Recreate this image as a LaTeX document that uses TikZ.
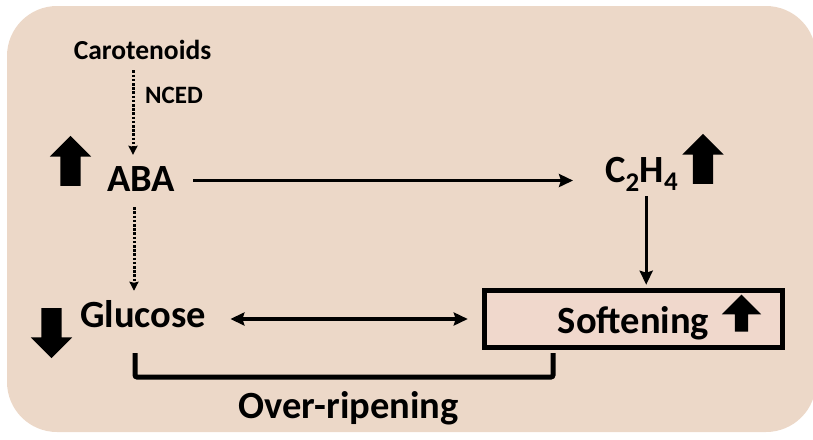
\documentclass[tikz,border=0pt]{standalone}
\usepackage{fontspec}
\setmainfont{Carlito}
\usetikzlibrary{positioning, arrows.meta, shapes.arrows}
\definecolor{bgtan}{RGB}{236,216,200}
\definecolor{boxpink}{RGB}{240,216,204}

\begin{document}
\begin{tikzpicture}[
    x = 1pt, y = -1pt,
    >={Stealth[length=14pt, width=13pt, inset=2pt]},
    %% ── text styles ──────────────────────────────────────────
    Big/.style   = {font=\fontsize{38.5}{44}\selectfont\bfseries,
                    inner sep=0pt, anchor=base},
    Mid/.style   = {font=\fontsize{27.5}{32}\selectfont\bfseries,
                    inner sep=0pt, anchor=base},
    Lab/.style   = {font=\fontsize{25}{30}\selectfont\bfseries,
                    inner sep=0pt, anchor=base west},
    SoftBox/.style = {Big, draw, line width=5.5pt, fill=boxpink,
                    minimum width=298pt, minimum height=57pt,
                    text height=28pt, text depth=0pt},
    %% ── block arrows ─────────────────────────────────────────
    upArr/.style   = {single arrow, fill=black, inner sep=0pt, rotate=90,
                      text height=20pt, text depth=0pt,
                      minimum height=50pt,
                      single arrow head extend=10.5pt},
    downArr/.style = {upArr, rotate=180},
    %% ── connectors ───────────────────────────────────────────
    arr/.style    = {->, line width=3.4pt},
    dotArr/.style = {-{Stealth[length=9pt, width=9pt, inset=1pt]},
                     line width=3pt, dash pattern=on 2.6pt off 1.6pt},
    brk/.style    = {line width=5pt, rounded corners=2pt}
]

\useasboundingbox (0,0) rectangle (813,439);
\fill[bgtan, rounded corners=50pt] (7,6) rectangle (816,432);

%% ── Hormones ─────────────────────────────────────────────────
\node[Mid] (carot) at (142.5,59) {Carotenoids};
\node[Lab] (nced)  at (145,103)  {NCED};
\node[Big] (aba)   at (141,191)  {ABA};
\node[Big, anchor=base west] (c2h4) at (605,182)
    {C\textsubscript{2}H\textsubscript{4}};

%% ── Fruit traits ─────────────────────────────────────────────
\node[Big, anchor=base west] (glucose) at (80,327) {Glucose};
\node[SoftBox] (soft) at (633.5,333) {Softening};
\node[Big] (overrip) at (348.5,418) {Over-ripening};

%% ── Up / down markers ────────────────────────────────────────
\node[upArr]   (abaup)    at (70.5,166)  {};
\node[upArr]   (c2h4up)   at (703,164)   {};
\node[downArr] (glucdown) at (51.5,328)  {};
\node[upArr, minimum height=37pt, text height=13pt,
      single arrow head extend=13pt] (softup) at (741.5,316.5) {};

%% ── Arrows ───────────────────────────────────────────────────
\draw[dotArr, shorten <=11pt, shorten >=11pt]
    ([xshift=-9.5pt]carot.south) -- ([xshift=-9.5pt]carot.south |- aba.north);
\draw[dotArr, shorten <=16pt, shorten >=9pt]
    ([xshift=-7pt]aba.south) -- ([xshift=-7pt]aba.south |- glucose.north);
\draw[arr] ([xshift=18pt, yshift=-2pt]aba.east)
    -- ([xshift=-32pt, yshift=-2pt]aba.east -| c2h4.west);
\draw[arr, shorten <=5pt, shorten >=3pt]
    ([xshift=4.5pt]c2h4.south) -- ([xshift=4.5pt]c2h4.south |- soft.north);
\draw[arr, <->] ([xshift=24pt]glucose.east |- soft.west)
    -- ([xshift=-14pt]soft.west);

%% ── Over-ripening bracket ────────────────────────────────────
\coordinate (brkL) at (135,353);
\coordinate (brkR) at (553,353);
\draw[brk] (brkL) -- ++(0,24) -| (brkR);

\end{tikzpicture}
\end{document}
